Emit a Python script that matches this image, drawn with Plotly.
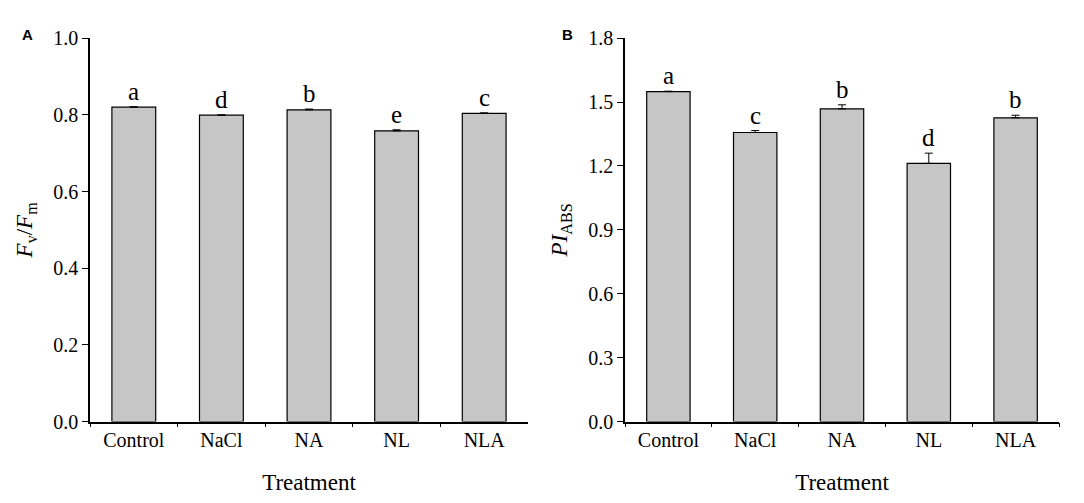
import plotly.graph_objects as go
from plotly.subplots import make_subplots

treatments = ["Control", "NaCl", "NA", "NL", "NLA"]

fvfm = [0.820, 0.799, 0.813, 0.758, 0.804]
fvfm_err = [0.001, 0.001, 0.002, 0.003, 0.001]
fvfm_letters = ["a", "d", "b", "e", "c"]

piabs = [1.549, 1.357, 1.468, 1.212, 1.426]
piabs_err = [0.002, 0.009, 0.019, 0.048, 0.012]
piabs_letters = ["a", "c", "b", "d", "b"]

no_lower = [0, 0, 0, 0, 0]

serif = "Liberation Serif"
bar_fill = "#c6c6c6"

fig = make_subplots(rows=1, cols=2)

for col, (vals, errs) in enumerate([(fvfm, fvfm_err), (piabs, piabs_err)], start=1):
    fig.add_trace(go.Bar(
        x=treatments, y=vals, width=0.5,
        marker=dict(color=bar_fill, line=dict(color="black", width=1.2)),
        error_y=dict(type="data", array=errs, arrayminus=no_lower, visible=True,
                     color="black", thickness=1, width=4),
        showlegend=False,
    ), row=1, col=col)

# significance letters above the error bars
for i, t in enumerate(treatments):
    fig.add_annotation(x=t, y=fvfm[i] + fvfm_err[i], xref="x", yref="y",
                       text=fvfm_letters[i], showarrow=False, yanchor="bottom",
                       font=dict(family=serif, size=25, color="black"))
    fig.add_annotation(x=t, y=piabs[i] + piabs_err[i], xref="x2", yref="y2",
                       text=piabs_letters[i], showarrow=False, yanchor="bottom",
                       font=dict(family=serif, size=25, color="black"))

# panel labels
fig.add_annotation(x=12 / 1084, y=1 - 16 / 503, xref="paper", yref="paper",
                   text="<b>A</b>", showarrow=False, xanchor="left", yanchor="middle",
                   font=dict(family="Liberation Sans", size=15, color="black"))
fig.add_annotation(x=552 / 1084, y=1 - 16 / 503, xref="paper", yref="paper",
                   text="<b>B</b>", showarrow=False, xanchor="left", yanchor="middle",
                   font=dict(family="Liberation Sans", size=15, color="black"))

tick_font = dict(family=serif, size=20, color="black")
title_font = dict(family=serif, size=23, color="black")

xcommon = dict(type="category", showline=True, linecolor="black", linewidth=1.5,
               ticks="outside", tickson="boundaries", ticklen=4, tickcolor="black",
               tickfont=tick_font, showgrid=False, zeroline=False,
               title=dict(text="Treatment", font=title_font, standoff=24))
ycommon = dict(showline=True, linecolor="black", linewidth=1.5, ticks="outside",
               ticklen=6, tickcolor="black", tickfont=tick_font, showgrid=False,
               zeroline=False)

y_lo = 1 - 421 / 503
y_hi = 1 - 20 / 503

fig.update_xaxes(**xcommon)
fig.update_layout(
    width=1084, height=503,
    margin=dict(l=0, r=0, t=0, b=0),
    plot_bgcolor="white", paper_bgcolor="white",
    xaxis=dict(domain=[82 / 1084, 520 / 1084]),
    xaxis2=dict(domain=[617 / 1084, 1051 / 1084]),
    yaxis=dict(domain=[y_lo, y_hi], range=[0, 1.0], dtick=0.2, tickformat=".1f",
               title=dict(text="<i>F</i><sub>v</sub>/<i>F</i><sub>m</sub>",
                          font=dict(family=serif, size=23, color="black"), standoff=14),
               **ycommon),
    yaxis2=dict(domain=[y_lo, y_hi], range=[0, 1.8], dtick=0.3, tickformat=".1f",
                title=dict(text="<i>PI</i><sub>ABS</sub>",
                           font=dict(family=serif, size=23, color="black"), standoff=14),
                **ycommon),
)

fig.write_html("out.html")
